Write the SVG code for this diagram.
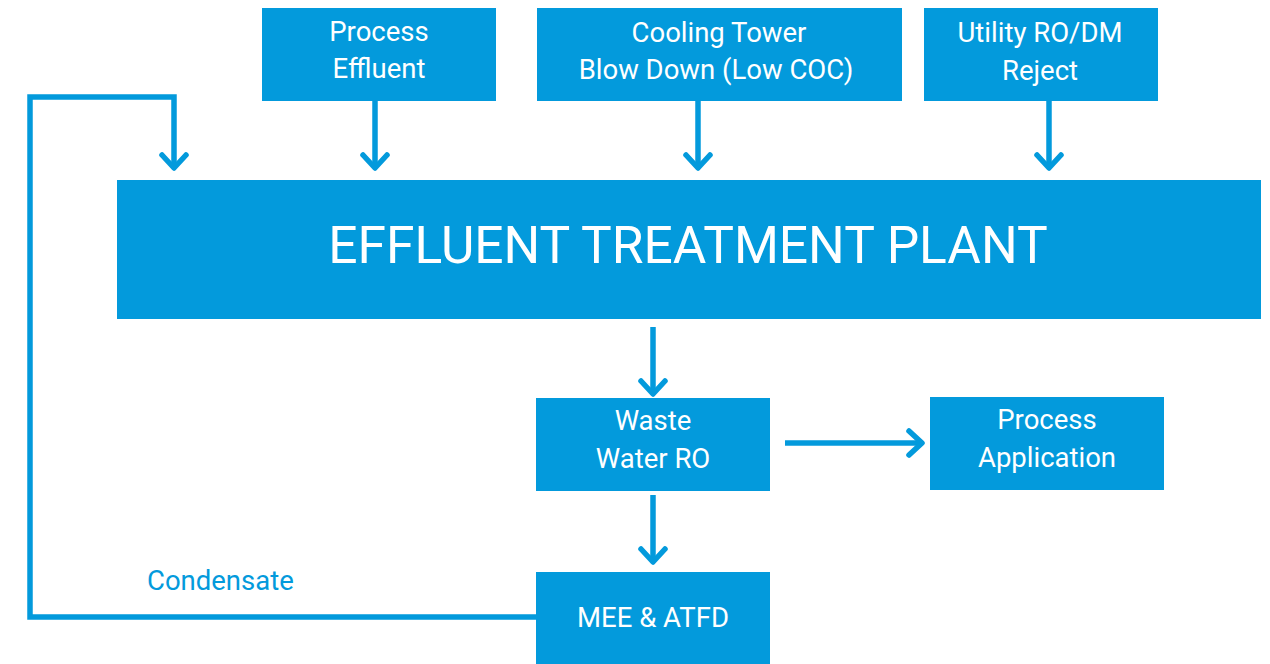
<svg xmlns="http://www.w3.org/2000/svg" width="1270" height="664" viewBox="0 0 1270 664">
<style>
.box{fill:#039ADC}
.t{font-family:Roboto,"Liberation Sans",sans-serif;fill:#fff;text-anchor:middle;font-size:27.5px}
.big{font-size:51.5px}
.ln{fill:none;stroke:#039ADC;stroke-width:5.5}
.hd{fill:none;stroke:#039ADC;stroke-width:5.5;stroke-linecap:round;stroke-linejoin:round}
.lbl{font-family:Roboto,"Liberation Sans",sans-serif;fill:#039ADC;font-size:27.5px}
</style>
<rect width="1270" height="664" fill="#fff"/>
<g id="connectors">
<path class="ln" d="M536,617 H30 V97 H174 V166"/>
<path class="hd" d="M162,155 L174,168 L186,155"/>
<path class="ln" d="M375,101 V166"/>
<path class="hd" d="M363,155 L375,168 L387,155"/>
<path class="ln" d="M698,101 V166"/>
<path class="hd" d="M686,155 L698,168 L710,155"/>
<path class="ln" d="M1049,101 V166"/>
<path class="hd" d="M1037,155 L1049,168 L1061,155"/>
<path class="ln" d="M653,327 V392"/>
<path class="hd" d="M641,381 L653,394 L665,381"/>
<path class="ln" d="M653,495 V560"/>
<path class="hd" d="M641,549 L653,562 L665,549"/>
<path class="ln" d="M785,443 H920"/>
<path class="hd" d="M909,431 L922,443 L909,455"/>
<text class="lbl" x="147" y="590">Condensate</text>
</g>
<g id="process-effluent">
<rect class="box" x="262" y="8" width="234" height="93"/>
<text class="t" x="379" y="41">Process</text>
<text class="t" x="379" y="78">Effluent</text>
</g>
<g id="cooling-tower">
<rect class="box" x="537" y="8" width="365" height="93"/>
<text class="t" x="719" y="42">Cooling Tower</text>
<text class="t" x="716" y="79">Blow Down (Low COC)</text>
</g>
<g id="utility">
<rect class="box" x="924" y="8" width="234" height="93"/>
<text class="t" x="1040" y="42">Utility RO/DM</text>
<text class="t" x="1040" y="80">Reject</text>
</g>
<g id="etp">
<rect class="box" x="117" y="180" width="1144" height="139"/>
<text class="t big" x="688" y="263">EFFLUENT TREATMENT PLANT</text>
</g>
<g id="waste-water-ro">
<rect class="box" x="536" y="398" width="234" height="93"/>
<text class="t" x="653" y="430">Waste</text>
<text class="t" x="653" y="468">Water RO</text>
</g>
<g id="process-application">
<rect class="box" x="930" y="397" width="234" height="93"/>
<text class="t" x="1047" y="429">Process</text>
<text class="t" x="1047" y="467">Application</text>
</g>
<g id="mee-atfd">
<rect class="box" x="536" y="572" width="234" height="92"/>
<text class="t" x="653" y="627">MEE &amp; ATFD</text>
</g>
</svg>
